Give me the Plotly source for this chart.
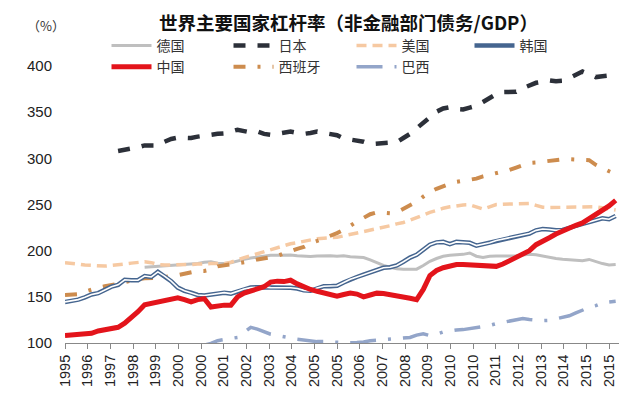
import plotly.graph_objects as go

# quarterly grid 1995Q1 .. 2015Q4
quarters = [1995 + i / 4 for i in range(84)]

tick_labels = ["1995", "1996", "1997", "1998", "1999", "2000", "2000", "2001", "2002",
               "2003", "2004", "2005", "2005", "2006", "2007", "2008", "2009", "2010",
               "2010", "2011", "2012", "2013", "2014", "2015", "2015"]

N = None
china = [108, 108.5, 109, 109.5, 110.5, 113, 114, 115.5, 117, 121.5, 127, 134, 141.5, 143, 145, 146,
         147.5, 149, 147, 144.6, 147, 148, 139, 140.5, 141, 141, 150, 154, 156, 158, 161, 166,
         167, 166.5, 168, 164, 160.5, 158, 156, 154.3, 152, 150.7, 152.5, 154, 153, 150, 152, 154,
         153.5, 152.5, 151.5, 150, 148.5, 147, 158, 173, 178.5, 181.5, 183.5, 185, 185, 184.5, 184.4, 184,
         183.5, 183, 185.5, 189, 192.5, 196, 200, 206.5, 211, 214, 218, 221.4, 225, 227.5, 230, 234.5,
         239.5, 244, 248.5, 254.5]

korea = [144.5, 145.5, 147, 149.5, 152.5, 154, 157.5, 161, 163, 168.5, 168, 168, 172.5, 171.5, 177, 172.5,
         167, 160, 156.5, 154.5, 152, 151.5, 152.5, 153, 154.5, 153.5, 156, 158.5, 160, 160.5, 160.5, 160,
         160, 160, 159.8, 159, 157, 156.5, 159.5, 161.5, 161.5, 162, 165.5, 169, 171.5, 174, 176.5, 179.5,
         181.5, 182, 184, 188, 192.5, 195.5, 201, 206.5, 209, 209.5, 207, 209.5, 209, 208.5, 205.5, 207,
         208.5, 211, 212.5, 214, 215, 217, 218.5, 222, 223.5, 223, 222, 222.5, 225, 227, 229, 231,
         233.5, 235, 234, 237.5]

germany = [N] * 12 + [182, 182.5, 183.5, 184, 184.5, 185, 185, 185.5, 186, 187.5, 188, 186.5, 186, 187, 189, 190.6,
          192, 193, 194, 195, 195, 195.3, 195.3, 194.5, 194, 193.8, 194.3, 194.6, 194.5, 194, 194.5, 193.5,
          193, 192.5, 190, 187, 184, 182, 180.5, 180, 179.7, 180, 184, 188.5, 191.5, 194, 195, 195.5,
          196, 197.5, 194, 192.5, 194, 194.2, 194, 194.2, 194.5, 195.5, 196, 195.5, 194, 192.5, 191.5, 190.6,
          190, 189, 189, 190.5, 188, 186, 184.5, 185]

usa = [187, 186.5, 185.5, 184.5, 184, 183.5, 183.3, 184, 184.5, 185.5, 186.5, 187.5, 188, 187, 185, 184.5,
       184.4, 184.4, 184.7, 185, 185.5, 186, 186, 186, 186, 187.5, 189.5, 192.4, 194.5, 196.7, 199, 201.4,
       203.5, 206, 207.5, 208.7, 210, 212, 213, 213.5, 214, 214.5, 216, 217.5, 219.5, 221, 222.5, 224,
       225.5, 227, 229, 230.5, 233, 236, 239, 241.5, 243.5, 246, 247.5, 248.6, 249.5, 249.7, 247, 245,
       247.5, 250, 250.3, 250.3, 250.3, 250.8, 251, 249, 247, 246.7, 246.7, 247, 247.2, 247.5, 247.5, 247.5,
       247.5, 246.5, 245, 244]

spain = [152, 152, 153, 155.5, 158, 160, 161.5, 162.5, 164, 166, 168, 169, 170, 170, 170.5, 171.5,
         172, 173.5, 175, 177, 178, 178, 179.5, 183, 184, 185, 186, 186.5, 188.5, 190.5, 192, 193,
         194.2, 197, 200, 202, 204, 208, 210.5, 213, 216, 219, 222.5, 227.5, 231.5, 235.5, 239.5, 241.5,
         241, 240.5, 241.5, 245, 248.5, 253, 258.5, 263.5, 267, 270, 272.5, 274.5, 275.5, 276, 278, 280.5,
         282, 283.5, 285.5, 287.5, 290, 293, 295, 295.5, 296.5, 297.5, 298.5, 299, 299, 299, 299, 298,
         293, 289, 286, 283]

japan = [N] * 8 + [308, 309, 310.5, 312, 314, 313.5, 314, 318, 321, 322.5, 322, 322, 323.5, 325, 325.5, 326.5,
        327, 329, 331, 329.5, 328, 329, 326.5, 325.5, 327, 328.5, 329, 327.5, 326.5, 327.5, 329, 327.5,
        326.5, 325, 321.5, 320.5, 320, 318, 315.5, 316, 317.5, 318, 317.5, 322, 326.5, 332.5, 339, 344.5,
        350.5, 354, 355.4, 353.5, 353, 355, 357, 361, 365, 369.5, 371.7, 371.7, 372, 376, 379, 381.8,
        383, 384.5, 383.5, 384, 387, 390, 394, 391, 388, 389, 390, 390.5]

brazil = [N] * 20 + [96, 97.5, 99.5, 102.5, 104, 105, 106, 112, 117, 115, 112, 109.5, 108, 107, 105.5, 104,
         103, 101.8, 101.5, 101.5, 101.5, 100.8, 100.3, 100, 100.5, 101, 102.5, 103, 103.5, 104.5, 105.4, 105.5,
         106, 108.5, 110, 108, 109.5, 112, 113.4, 114, 114.5, 115.5, 116.3, 117.5, 119, 121, 122.5, 124.2,
         125.5, 126.4, 125.5, 124.5, 124.2, 124.5, 126, 127.2, 129.5, 132.6, 136, 138.5, 140.5, 143.5, 144.5, 145.3]

names = {"germany": "德国", "japan": "日本", "usa": "美国", "korea": "韩国",
         "china": "中国", "spain": "西班牙", "brazil": "巴西"}

fig = go.Figure()

def add(y, name, color, width, dash="solid", legend="legend", rank=1, show=True):
    fig.add_trace(go.Scatter(x=quarters, y=y, mode="lines", name=name,
                             line=dict(color=color, width=width, dash=dash),
                             legend=legend, legendrank=rank, showlegend=show,
                             connectgaps=False, hoverinfo="skip"))

add(brazil, names["brazil"], "#93a5c9", 3.5, "26px,12px,3px,12px", legend="legend3", rank=2)
add(germany, names["germany"], "#bfbfbf", 3, legend="legend", rank=1)
add(usa, names["usa"], "#f6c9a2", 3.5, "10px,6px", legend="legend3", rank=1)
add(spain, names["spain"], "#cd8c4e", 4, "12px,12px,3px,12px", legend="legend2", rank=2)
add(japan, names["japan"], "#2c3039", 4.5, "12px,12px", legend="legend2", rank=1)
add(korea, names["korea"], "#45658f", 4.5, legend="legend4", rank=1)
add(korea, names["korea"], "#ffffff", 1.6, legend="legend4", rank=1, show=False)
add(china, names["china"], "#e3141b", 5, legend="legend", rank=2)

tickvals = [1995 + k * (82 / 24) / 4 for k in range(len(tick_labels))]

legend_font = dict(family="Noto Sans CJK SC", size=14, color="#333")
legend_cols_px = [98.5, 220.5, 343.5, 461.5]
legend_top = 1.13

def legend_cfg(px):
    return dict(orientation="v", x=(px - 57) / 554, xanchor="left", y=legend_top, yanchor="top",
                font=legend_font, itemwidth=40, traceorder="normal",
                bgcolor="rgba(0,0,0,0)", tracegroupgap=0)

fig.update_layout(
    width=640, height=397,
    margin=dict(l=57, r=29, t=58, b=62),
    paper_bgcolor="white", plot_bgcolor="white",
    font=dict(family="Liberation Sans, Noto Sans CJK SC", size=15, color="#222"),
    title=dict(text="<b>世界主要国家杠杆率（非金融部门债务/GDP）</b>",
               x=0.532, xanchor="center", y=0.962, yanchor="middle",
               font=dict(family="Noto Sans CJK SC", size=18.5, color="#111")),
    showlegend=True,
    legend=legend_cfg(legend_cols_px[0]),
    legend2=legend_cfg(legend_cols_px[1]),
    legend3=legend_cfg(legend_cols_px[2]),
    legend4=legend_cfg(legend_cols_px[3]),
    xaxis=dict(range=[1995, 1995 + 83.5 / 4], tickmode="array", tickvals=tickvals,
               ticktext=tick_labels, tickangle=-90, showgrid=False, zeroline=False,
               showline=True, linecolor="#888", linewidth=1, ticks="outside",
               ticklen=5, tickcolor="#888", tickfont=dict(size=14.5, color="#222")),
    yaxis=dict(range=[100, 400], tickmode="array", tickvals=[100, 150, 200, 250, 300, 350, 400],
               showgrid=False, zeroline=False, showline=False, ticks="",
               ticklabelstandoff=12, tickfont=dict(size=15, color="#222")),
)

fig.add_annotation(text="（%）", xref="paper", yref="paper",
                   x=(38 - 57) / 554, y=(335 - 18) / 277, showarrow=False,
                   xanchor="center", yanchor="middle",
                   font=dict(family="Noto Sans CJK SC", size=13, color="#333"))

fig.write_html("out.html")
